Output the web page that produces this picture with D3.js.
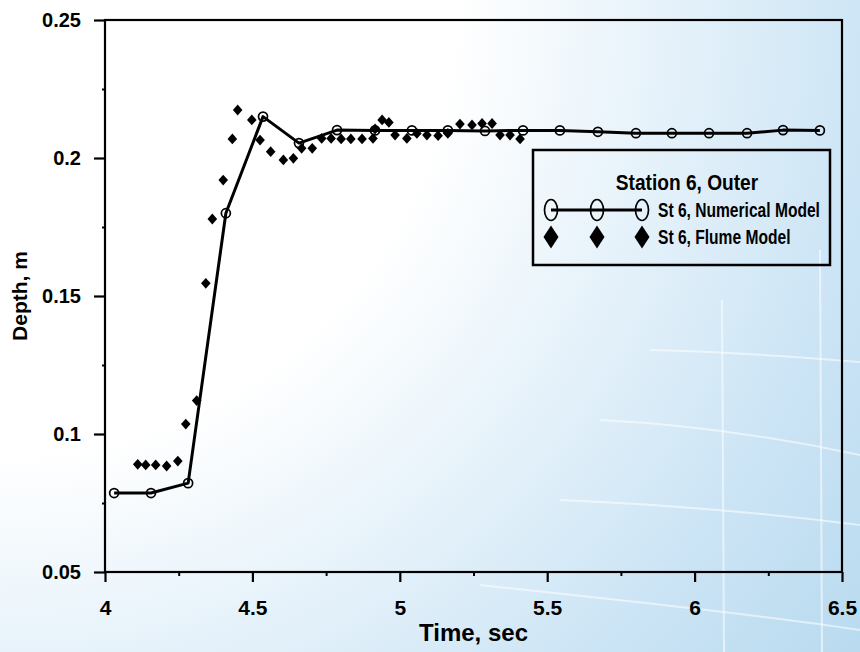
<!DOCTYPE html>
<html><head><meta charset="utf-8">
<script src="https://cdn.jsdelivr.net/npm/d3@7"></script>
<style>
html,body{margin:0;padding:0;background:#fff;}
svg{display:block;}
text{font-family:"Liberation Sans", Arial, Helvetica, sans-serif; font-weight:bold; fill:#000;}
</style>
</head><body>
<svg id="chart" width="860" height="652"></svg>
<script>
// ---------- data ----------
const numTime  = [4.031, 4.156, 4.282, 4.410, 4.536, 4.658, 4.787, 4.916, 5.041, 5.163,
                  5.289, 5.418, 5.543, 5.672, 5.801, 5.923, 6.049, 6.178, 6.300, 6.425];
const numDepth = [0.0786, 0.0786, 0.0822, 0.180, 0.215, 0.2054, 0.2101, 0.2100, 0.2100, 0.2100,
                  0.2098, 0.2100, 0.2100, 0.2095, 0.2090, 0.2090, 0.2090, 0.2090, 0.2101, 0.2100];

const flumeTime  = [4.111, 4.138, 4.172, 4.209, 4.247, 4.274, 4.311, 4.342, 4.364, 4.401,
                    4.432, 4.450, 4.498, 4.526, 4.562, 4.605, 4.639, 4.667, 4.703, 4.735,
                    4.767, 4.801, 4.834, 4.872, 4.909, 4.916, 4.940, 4.963, 4.984, 5.024,
                    5.058, 5.092, 5.130, 5.163, 5.204, 5.245, 5.279, 5.313, 5.340, 5.374, 5.408];
const flumeDepth = [0.0890, 0.0888, 0.0888, 0.0884, 0.0902, 0.1036, 0.1121, 0.1546, 0.1779, 0.1920,
                    0.2069, 0.2174, 0.2138, 0.2065, 0.2023, 0.1993, 0.1999, 0.2035, 0.2035, 0.2071,
                    0.2071, 0.2069, 0.2069, 0.2069, 0.2071, 0.2105, 0.2138, 0.2129, 0.2083, 0.2071,
                    0.2089, 0.2083, 0.2081, 0.2089, 0.2123, 0.2120, 0.2125, 0.2125, 0.2083, 0.2083, 0.2069];

const xTicks = [4, 4.5, 5, 5.5, 6, 6.5];
const xTickLabels = ["4", "4.5", "5", "5.5", "6", "6.5"];
const xMinorTicks = [4.25, 4.75, 5.25, 5.75, 6.25];
const yTicks = [0.05, 0.1, 0.15, 0.2, 0.25];
const yTickLabels = ["0.05", "0.1", "0.15", "0.2", "0.25"];
const yMinorTicks = [0.075, 0.125, 0.175, 0.225];

const legendTitle = "Station 6, Outer";
const seriesNames = ["St 6, Numerical Model", "St 6, Flume Model"];
const xTitle = "Time, sec";
const yTitle = "Depth, m";

// ---------- layout ----------
const W = 860, H = 652;
const L = 105, R = 842, T = 20, B = 572;
const svg = d3.select("#chart");

// background gradient
const defs = svg.append("defs");
const rg = defs.append("radialGradient").attr("id", "bg")
  .attr("gradientUnits", "userSpaceOnUse")
  .attr("cx", 0).attr("cy", 0).attr("r", 1080);
rg.append("stop").attr("offset", "0").attr("stop-color", "#ffffff");
rg.append("stop").attr("offset", "0.42").attr("stop-color", "#ffffff");
rg.append("stop").attr("offset", "0.66").attr("stop-color", "#e0eff9");
rg.append("stop").attr("offset", "0.82").attr("stop-color", "#cbe4f5");
rg.append("stop").attr("offset", "1").attr("stop-color", "#b9daef");
svg.append("rect").attr("width", W).attr("height", H).attr("fill", "url(#bg)");

// faint decorative background lines
const deco = svg.append("g").attr("fill", "none").attr("stroke", "#ffffff")
  .attr("stroke-opacity", 0.55).attr("stroke-width", 2);
deco.append("path").attr("d", "M600,420 C700,425 790,440 860,455");
deco.append("path").attr("d", "M560,500 C680,505 780,515 860,525");
deco.append("path").attr("d", "M480,585 C620,600 760,615 860,630");
deco.append("path").attr("d", "M650,350 C740,352 810,358 860,362");
deco.append("path").attr("d", "M722,300 L724,652");
deco.append("path").attr("d", "M820,250 L822,652");

const x = d3.scaleLinear().domain([4, 6.5]).range([L, R]);
const y = d3.scaleLinear().domain([0.05, 0.25]).range([B, T]);

// frame
svg.append("rect").attr("x", L).attr("y", T).attr("width", R - L).attr("height", B - T)
  .attr("fill", "none").attr("stroke", "#000").attr("stroke-width", 2.2);

// left axis
const gy = svg.append("g").attr("transform", `translate(${L},0)`)
  .call(d3.axisLeft(y).tickValues(yTicks).tickFormat((d, i) => yTickLabels[i])
        .tickSize(11).tickPadding(13));
gy.select(".domain").remove();
gy.selectAll(".tick line").attr("stroke", "#000").attr("stroke-width", 2.2);
gy.selectAll(".tick text").style("font-size", "20px").style("font-family", null);

const gym = svg.append("g").attr("transform", `translate(${L},0)`)
  .call(d3.axisLeft(y).tickValues(yMinorTicks).tickFormat("").tickSize(3));
gym.select(".domain").remove();
gym.selectAll(".tick line").attr("stroke", "#000").attr("stroke-width", 2);

// bottom axis
const gx = svg.append("g").attr("transform", `translate(0,${B})`)
  .call(d3.axisBottom(x).tickValues(xTicks).tickFormat((d, i) => xTickLabels[i])
        .tickSize(10).tickPadding(18));
gx.select(".domain").remove();
gx.selectAll(".tick line").attr("stroke", "#000").attr("stroke-width", 2.2);
gx.selectAll(".tick text").style("font-size", "21px").style("font-family", null);

const gxm = svg.append("g").attr("transform", `translate(0,${B})`)
  .call(d3.axisBottom(x).tickValues(xMinorTicks).tickFormat("").tickSize(4));
gxm.select(".domain").remove();
gxm.selectAll(".tick line").attr("stroke", "#000").attr("stroke-width", 2);

// axis titles
svg.append("text").attr("x", (L + R) / 2).attr("y", 641)
  .attr("text-anchor", "middle").style("font-size", "24px").text(xTitle);
svg.append("text").attr("transform", `translate(27,${(T + B) / 2}) rotate(-90)`)
  .attr("text-anchor", "middle").style("font-size", "21px").text(yTitle);

// ---------- series ----------
const numData = numTime.map((t, i) => ({ t, d: numDepth[i] }));
const flumeData = flumeTime.map((t, i) => ({ t, d: flumeDepth[i] }));

const line = d3.line().x(p => x(p.t)).y(p => y(p.d));
svg.append("path").datum(numData).attr("d", line)
  .attr("fill", "none").attr("stroke", "#000").attr("stroke-width", 3)
  .attr("stroke-linejoin", "round");

function diamondPath(cx, cy, hw, hh) {
  return `M${cx},${cy - hh}L${cx + hw},${cy}L${cx},${cy + hh}L${cx - hw},${cy}Z`;
}

svg.append("g").selectAll("path").data(flumeData).join("path")
  .attr("d", p => diamondPath(x(p.t), y(p.d), 4.8, 5.4))
  .attr("fill", "#000");

svg.append("g").selectAll("circle").data(numData).join("circle")
  .attr("cx", p => x(p.t)).attr("cy", p => y(p.d)).attr("r", 4.5)
  .attr("fill", "none").attr("stroke", "#000").attr("stroke-width", 1.7);

// ---------- legend ----------
const lg = svg.append("g");
lg.append("rect").attr("x", 533).attr("y", 150).attr("width", 297).attr("height", 115)
  .attr("fill", "none").attr("stroke", "#000").attr("stroke-width", 2.5);

function squeezedText(g, tx, ty, txt, size, sx, anchor) {
  g.append("text").attr("transform", `translate(${tx},${ty}) scale(${sx},1)`)
    .attr("text-anchor", anchor).style("font-size", size + "px").text(txt);
}
squeezedText(lg, 687, 190, legendTitle, 22.5, 0.85, "middle");

const symX = [551, 597, 642];
lg.append("line").attr("x1", symX[0]).attr("x2", symX[2]).attr("y1", 210).attr("y2", 210)
  .attr("stroke", "#000").attr("stroke-width", 3);
lg.selectAll("ellipse").data(symX).join("ellipse")
  .attr("cx", d => d).attr("cy", 210).attr("rx", 6.5).attr("ry", 10.5)
  .attr("fill", "none").attr("stroke", "#000").attr("stroke-width", 1.7);
lg.selectAll("path.ld").data(symX).join("path").attr("class", "ld")
  .attr("d", d => diamondPath(d, 237, 7.5, 11.5)).attr("fill", "#000");

squeezedText(lg, 658, 217, seriesNames[0], 19.5, 0.8, "start");
squeezedText(lg, 658, 244, seriesNames[1], 19.5, 0.8, "start");
</script>
</body></html>
